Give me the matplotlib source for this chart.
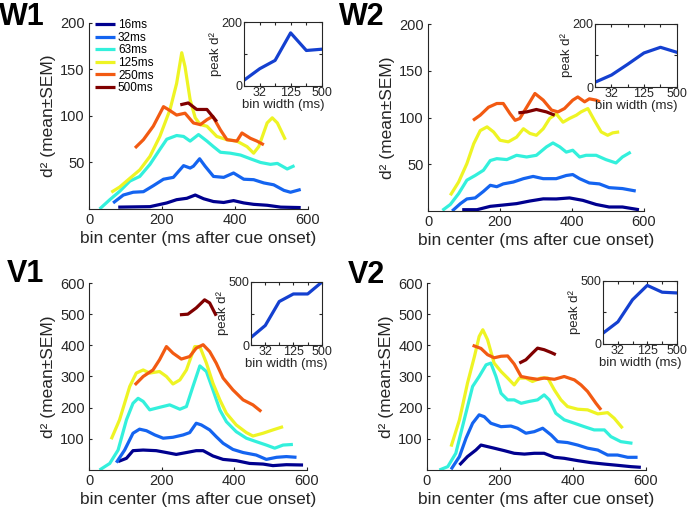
import numpy as np
import matplotlib
matplotlib.use("Agg")
import matplotlib.pyplot as plt

plt.rcParams['font.family'] = ['Liberation Sans', 'DejaVu Sans']

bin_labels = ['16ms', '32ms', '63ms', '125ms', '250ms', '500ms']
bin_widths = [16, 32, 63, 125, 250, 500]
colors = ['#00008f', '#1464f0', '#33f0dc', '#eef424', '#f25a12', '#800000']
txt = '#262626'

# ---------------- W1 ----------------
w1_16_x = [80, 167, 213, 240, 268, 291, 314, 341, 369, 396, 424, 451, 488, 525, 580]
w1_16_y = [2, 2.5, 6.5, 10, 11.5, 15, 11, 8, 7, 9, 6.5, 5, 4, 2, 1.5]
w1_32_x = [66, 94, 121, 149, 176, 204, 231, 259, 277, 286, 303, 318, 341, 369, 396, 424, 451, 479, 506, 534, 552, 580]
w1_32_y = [6.5, 15, 18, 18.6, 25, 32, 34, 46.6, 44, 46, 54, 46, 35, 34, 38.7, 32, 31.5, 28, 26, 20, 18, 21]
w1_63_x = [29, 57, 84, 112, 139, 167, 194, 213, 240, 259, 277, 300, 323, 341, 360, 387, 415, 442, 470, 497, 516, 543, 563]
w1_63_y = [0, 10, 19, 30, 35, 48, 64, 75, 79, 78, 73, 80, 73, 67, 61, 60, 58, 54, 50, 48, 49, 43, 46.6]
w1_125_x = [61, 84, 112, 139, 167, 194, 222, 240, 254, 263, 277, 291, 305, 323, 350, 378, 405, 433, 451, 465, 488, 502, 516, 538]
w1_125_y = [18, 23.6, 33, 42, 56.6, 78, 107, 135, 168, 153, 117.5, 98, 90.7, 89, 78, 74.5, 73, 67, 60, 67, 92.5, 98, 92.5, 74.5]
w1_250_x = [126, 149, 176, 204, 217, 240, 263, 286, 305, 323, 339, 360, 378, 405, 419, 442, 460, 479]
w1_250_y = [65.6, 74.5, 89, 110, 107, 101, 103, 92.5, 90.7, 96, 99.6, 85, 74.5, 73, 81.7, 76, 73, 69]
w1_500_x = [250, 272, 295, 323, 350]
w1_500_y = [112, 114, 107, 107, 94]
w1_peak = [18, 54, 80, 166, 111, 115]

# ---------------- W2 ----------------
w2_16_x = [95, 136, 173, 209, 246, 283, 320, 356, 393, 430, 467, 503, 540, 586]
w2_16_y = [1.4, 1.4, 5, 6.4, 7.9, 10.7, 13, 12.9, 14, 11.4, 7, 4.3, 4.3, 1.4]
w2_32_x = [67, 90, 108, 131, 154, 173, 191, 209, 237, 265, 292, 320, 356, 384, 402, 421, 448, 476, 503, 540, 577]
w2_32_y = [0, 7.9, 12.9, 14, 21, 27.5, 26, 29, 31, 34.6, 37, 34.6, 34.6, 38, 39, 34.6, 30, 29, 25, 24, 21.4]
w2_63_x = [40, 62, 85, 108, 131, 154, 173, 191, 219, 246, 274, 301, 329, 347, 366, 384, 402, 421, 439, 467, 494, 522, 540, 563]
w2_63_y = [0.7, 7, 18.6, 33, 38, 43.6, 54, 56, 55, 59.6, 57.8, 59.6, 68.6, 72.8, 68.6, 63, 65, 57.8, 59.6, 59.6, 55, 51.4, 57.8, 63]
w2_125_x = [62, 85, 108, 127, 145, 164, 182, 200, 223, 246, 265, 283, 301, 320, 338, 356, 375, 393, 412, 425, 444, 462, 481, 499, 513, 531]
w2_125_y = [16.8, 31, 50.7, 72, 86, 90, 84.6, 75.7, 74, 79, 88, 83, 81, 88, 99, 104, 95, 99, 102.5, 106, 109.6, 97, 84.6, 81, 83.6, 84.6]
w2_250_x = [125, 145, 168, 191, 209, 228, 242, 255, 274, 297, 320, 343, 361, 379, 402, 416, 435, 448, 467, 478]
w2_250_y = [97, 102.5, 111, 115, 115, 104, 97, 99, 111, 125.7, 118.6, 108, 106, 109.6, 118.6, 122, 116.8, 120, 118.6, 116.8]
w2_500_x = [251, 274, 301, 329, 352]
w2_500_y = [105, 106, 108.6, 106, 102.5]
w2_peak = [15, 38, 72, 108, 126, 110]

# ---------------- V1 ----------------
v1_16_x = [80, 103, 121, 149, 185, 213, 240, 268, 295, 314, 341, 369, 405, 442, 479, 506, 543, 589]
v1_16_y = [27, 37.5, 62, 64, 62, 56, 50, 56, 62, 62, 45, 34, 30, 21, 19, 14, 17, 16]
v1_32_x = [75, 98, 121, 139, 158, 181, 204, 231, 259, 277, 295, 309, 332, 350, 369, 396, 424, 460, 488, 516, 543, 571]
v1_32_y = [23.6, 64, 118, 131, 126, 112.5, 102, 105, 112.5, 120, 150, 144.6, 128.6, 107, 85.7, 66, 56, 48, 34, 40.7, 43, 40.7]
v1_63_x = [29, 57, 80, 103, 121, 135, 149, 167, 194, 222, 250, 268, 286, 305, 323, 341, 360, 378, 405, 433, 460, 488, 511, 534, 561]
v1_63_y = [0, 21, 64, 161, 214, 230, 220, 193, 201, 209, 195, 203.6, 268, 334, 316, 257, 193, 155, 123, 102, 91, 80, 70, 80, 82]
v1_125_x = [61, 84, 112, 130, 149, 167, 194, 213, 231, 250, 268, 291, 305, 323, 341, 360, 378, 405, 433, 451, 479, 506, 534]
v1_125_y = [98.6, 161, 268, 311, 321, 311, 316, 300, 276, 289, 321, 396, 396, 343, 278.6, 225, 182, 144.6, 120, 109, 118, 128.6, 139]
v1_250_x = [126, 149, 176, 194, 213, 231, 254, 277, 295, 314, 332, 350, 369, 396, 424, 451, 474]
v1_250_y = [273, 300, 321, 353.6, 396, 375, 356, 364, 391, 402, 380, 343, 295, 257, 225, 209, 187.5]
v1_500_x = [250, 272, 295, 318, 332, 350]
v1_500_y = [498, 500, 520, 546, 536, 495]
v1_peak = [60, 155, 345, 405, 405, 500]

# ---------------- V2 ----------------
v2_16_x = [89, 111, 134, 148, 166, 184, 212, 239, 267, 294, 321, 349, 376, 413, 449, 486, 522, 559, 586]
v2_16_y = [16, 43, 64, 80, 75, 70, 62, 53.6, 51, 53.6, 53.6, 40.7, 37.5, 30, 23.6, 19, 15, 10.7, 8.6]
v2_32_x = [66, 89, 107, 125, 143, 157, 175, 203, 230, 248, 271, 294, 317, 340, 358, 385, 413, 440, 468, 495, 522, 550, 577]
v2_32_y = [2, 43, 102, 150, 177, 171, 150, 139, 141, 134, 118, 123, 134, 112.5, 91, 88, 80, 70, 64, 48, 48, 40.7, 40.7]
v2_63_x = [34, 57, 79, 102, 125, 143, 162, 175, 189, 203, 221, 239, 258, 280, 303, 321, 335, 353, 376, 404, 431, 458, 486, 504, 531, 563]
v2_63_y = [0, 10.7, 53.6, 161, 268, 300, 337.5, 343, 300, 246, 225, 225, 214, 220, 225, 241, 225, 182, 161, 150, 139, 128.6, 128.6, 107, 91, 85.7]
v2_125_x = [66, 89, 111, 130, 143, 153, 166, 184, 203, 221, 239, 253, 271, 289, 312, 331, 349, 367, 385, 413, 440, 468, 495, 513, 536]
v2_125_y = [75, 161, 278.6, 364, 428.6, 450, 418, 343, 316, 295, 273, 295, 295, 284, 295, 295, 257, 225, 203.6, 195, 193, 180, 184, 166, 134]
v2_250_x = [125, 148, 166, 184, 203, 221, 239, 258, 280, 303, 321, 349, 376, 404, 422, 440, 463, 477]
v2_250_y = [400, 390, 370, 360, 365, 366, 340, 300, 295, 291, 295, 291, 300, 289, 273, 252, 214, 193]
v2_500_x = [253, 271, 289, 303, 321, 340, 353]
v2_500_y = [343, 353.6, 375, 391, 386, 377, 370]
v2_peak = [86, 176, 351, 465, 411, 405]

panels = [
    dict(name='W1', xs=[w1_16_x, w1_32_x, w1_63_x, w1_125_x, w1_250_x, w1_500_x],
         ys=[w1_16_y, w1_32_y, w1_63_y, w1_125_y, w1_250_y, w1_500_y], peak=w1_peak,
         ymax=200, yticks=[50, 100, 150, 200], pmax=200,
         main=[0.1294, 0.5878, 0.3183, 0.3669], inset=[0.3547, 0.8304, 0.1134, 0.1262],
         label=(-0.002, 0.9507)),
    dict(name='W2', xs=[w2_16_x, w2_32_x, w2_63_x, w2_125_x, w2_250_x, w2_500_x],
         ys=[w2_16_y, w2_32_y, w2_63_y, w2_125_y, w2_250_y, w2_500_y], peak=w2_peak,
         ymax=200, yticks=[50, 100, 150, 200], pmax=200,
         main=[0.6221, 0.5838, 0.3140, 0.3688], inset=[0.8648, 0.8284, 0.1192, 0.1243],
         label=(0.492, 0.9507)),
    dict(name='V1', xs=[v1_16_x, v1_32_x, v1_63_x, v1_125_x, v1_250_x, v1_500_x],
         ys=[v1_16_y, v1_32_y, v1_63_y, v1_125_y, v1_250_y, v1_500_y], peak=v1_peak,
         ymax=600, yticks=[100, 200, 300, 400, 500, 600], pmax=500,
         main=[0.1294, 0.0730, 0.3169, 0.3688], inset=[0.3648, 0.3195, 0.1032, 0.1243],
         label=(0.010, 0.4438)),
    dict(name='V2', xs=[v2_16_x, v2_32_x, v2_63_x, v2_125_x, v2_250_x, v2_500_x],
         ys=[v2_16_y, v2_32_y, v2_63_y, v2_125_y, v2_250_y, v2_500_y], peak=v2_peak,
         ymax=600, yticks=[100, 200, 300, 400, 500, 600], pmax=500,
         main=[0.6206, 0.0730, 0.3183, 0.3688], inset=[0.8765, 0.3215, 0.1076, 0.1243],
         label=(0.506, 0.4418)),
]

fig = plt.figure(figsize=(6.88, 5.07), dpi=100)

for p in panels:
    ax = fig.add_axes(p['main'])
    for x, y, c, lab in zip(p['xs'], p['ys'], colors, bin_labels):
        ax.plot(x, y, color=c, lw=2.3, label=lab, solid_capstyle='butt',
                solid_joinstyle='round')
    ax.set_xlim(0, 600)
    ax.set_ylim(0, p['ymax'])
    ax.set_xticks([0, 200, 400, 600])
    ax.set_yticks(p['yticks'])
    ax.spines['top'].set_visible(False)
    ax.spines['right'].set_visible(False)
    for s in ['left', 'bottom']:
        ax.spines[s].set_color(txt)
        ax.spines[s].set_linewidth(0.8)
    ax.tick_params(direction='in', length=2, labelsize=10.5, colors=txt, pad=3)
    ax.set_xlabel('bin center (ms after cue onset)', fontsize=12.5, color=txt, labelpad=3)
    ax.set_ylabel('d² (mean±SEM)', fontsize=12.5, color=txt, labelpad=3)
    fig.text(p['label'][0], p['label'][1], p['name'], fontsize=22, fontweight='bold',
             ha='left', va='baseline')
    if p['name'] == 'W1':
        ax.legend(loc='upper left', bbox_to_anchor=(0.027, 1.02), frameon=False,
                  fontsize=8.5, handlelength=1.7, handletextpad=0.25,
                  labelspacing=0.05, borderaxespad=0, borderpad=0)

    ins = fig.add_axes(p['inset'])
    ins.plot(bin_widths, p['peak'], color='#1440d0', lw=2.3, solid_joinstyle='round')
    ins.set_xscale('log', base=2)
    ins.set_xlim(16, 500)
    ins.set_ylim(0, p['pmax'])
    ins.set_xticks(bin_widths)
    ins.set_xticklabels(['', '32', '', '125', '', '500'])
    ins.minorticks_off()
    ins.set_yticks([0, p['pmax'] / 2, p['pmax']])
    ins.set_yticklabels(['0', '', str(p['pmax'])])
    ins.tick_params(direction='in', length=2, labelsize=9, colors=txt, pad=1,
                    top=True, right=True)
    for s in ins.spines.values():
        s.set_color(txt)
        s.set_linewidth(0.8)
    ins.set_xlabel('bin width (ms)', fontsize=9.5, color=txt, labelpad=0)
    ins.set_ylabel('peak d²', fontsize=9.5, color=txt, labelpad=0)

fig.savefig('out.png', dpi=100)
